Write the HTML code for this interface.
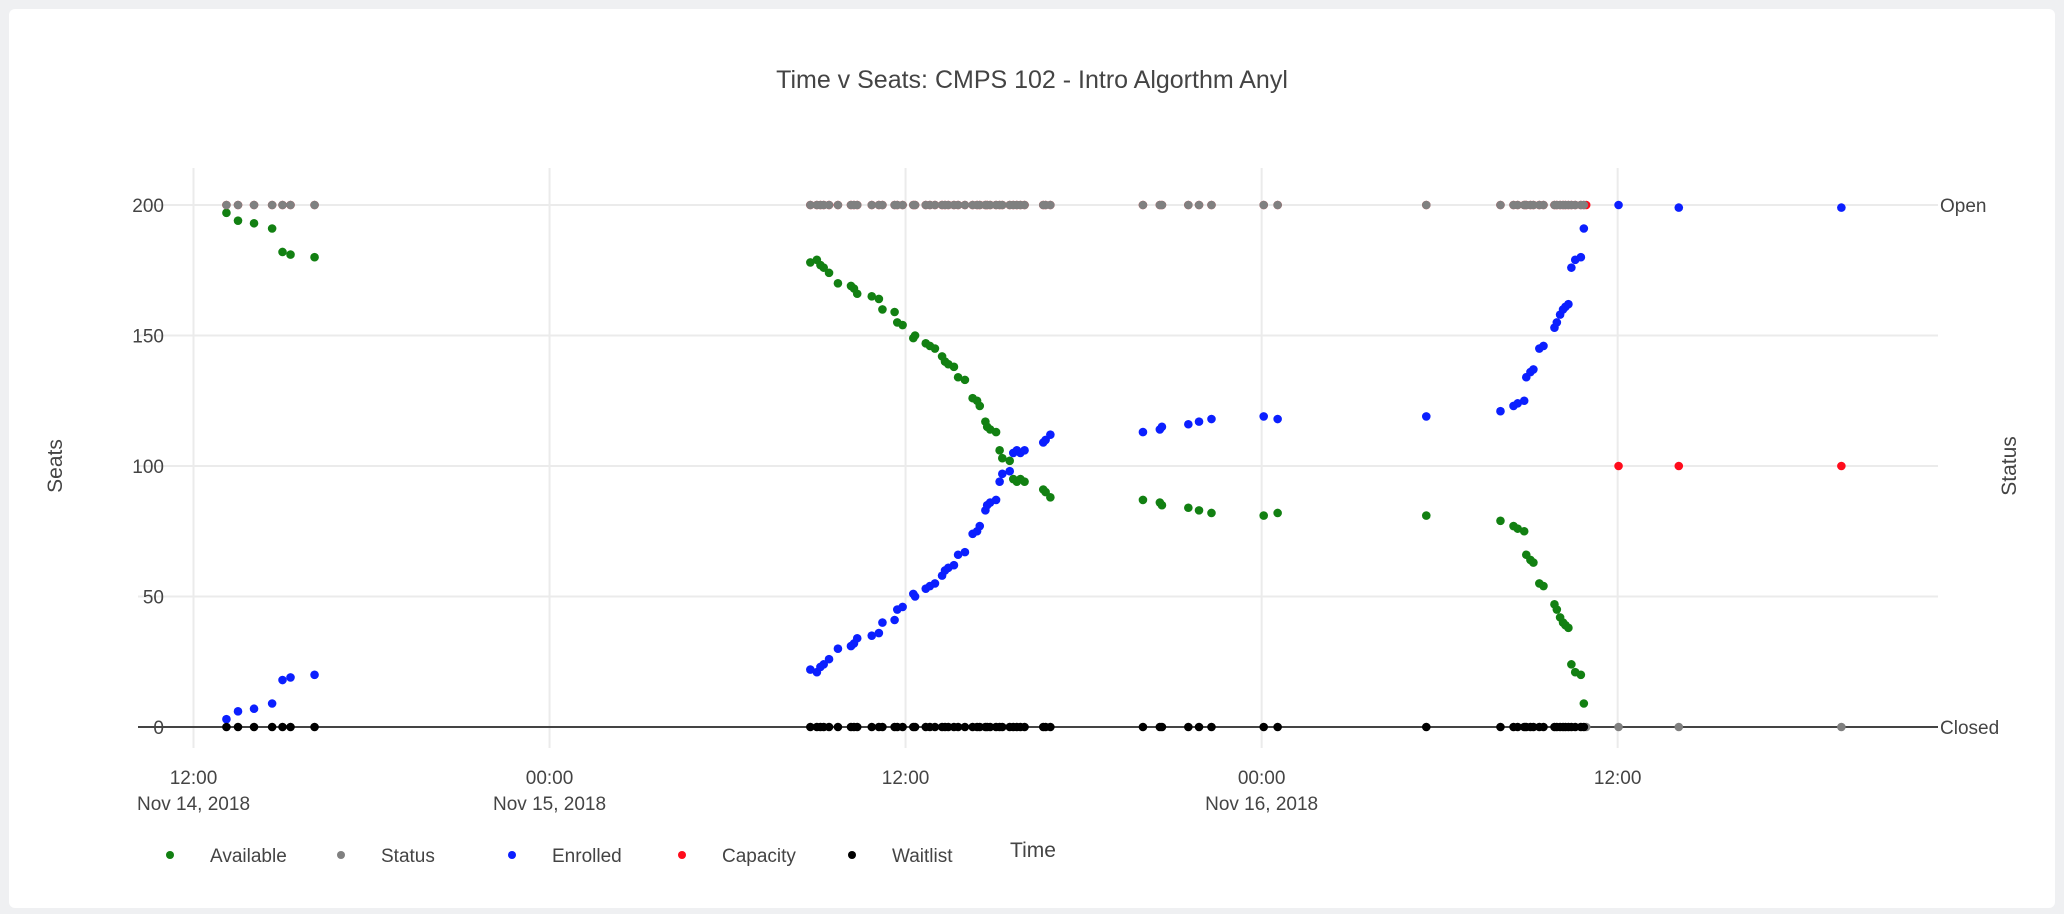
<!DOCTYPE html>
<html><head><meta charset="utf-8"><style>
html,body{margin:0;padding:0;background:#eff0f2;}
body{width:2064px;height:914px;overflow:hidden;position:relative;font-family:"Liberation Sans",sans-serif;}
#card{position:absolute;left:9px;top:9px;width:2046px;height:899px;background:#fff;border-radius:6px;}
svg{position:absolute;left:0;top:0;}
text{font-family:"Liberation Sans",sans-serif;fill:#444;}
</style></head><body>
<div id="card"></div>
<svg id="chart" width="2064" height="914"></svg>
<script>
// hours since Nov 14, 2018 12:00
const times = [1.11,1.5,2.04,2.65,3.0,3.27,4.08,
20.79,21.01,21.13,21.24,21.42,21.72,22.16,22.26,22.37,22.86,23.10,23.22,23.63,23.72,23.90,24.26,24.32,24.68,24.82,24.99,25.23,25.33,25.44,25.63,25.77,26.00,26.26,26.41,26.50,26.69,26.75,26.85,27.05,27.17,27.26,27.51,27.63,27.75,27.87,28.01,28.64,28.72,28.88,32.00,32.57,32.64,33.53,33.89,34.31,36.07,36.54,41.55,
44.05,44.49,44.63,44.85,44.92,45.06,45.16,45.36,45.50,45.87,45.95,46.06,46.16,46.24,46.34,46.44,46.57,46.76,46.86,
46.94,48.03,50.06,55.54];
const available = [197,194,193,191,182,181,180,
178,179,177,176,174,170,169,168,166,165,164,160,159,155,154,149,150,147,146,145,142,140,139,138,134,133,126,125,123,117,115,114,113,106,103,102,95,94,95,94,91,90,88,87,86,85,84,83,82,81,82,81,
79,77,76,75,66,64,63,55,54,47,45,42,40,39,38,24,21,20,9,
null,null,null,null];
const enrolled = [3,6,7,9,18,19,20,
22,21,23,24,26,30,31,32,34,35,36,40,41,45,46,51,50,53,54,55,58,60,61,62,66,67,74,75,77,83,85,86,87,94,97,98,105,106,105,106,109,110,112,113,114,115,116,117,118,119,118,119,
121,123,124,125,134,136,137,145,146,153,155,158,160,161,162,176,179,180,191,
null,200,199,199];
const capacity = [200,200,200,200,200,200,200,
200,200,200,200,200,200,200,200,200,200,200,200,200,200,200,200,200,200,200,200,200,200,200,200,200,200,200,200,200,200,200,200,200,200,200,200,200,200,200,200,200,200,200,200,200,200,200,200,200,200,200,200,
200,200,200,200,200,200,200,200,200,200,200,200,200,200,200,200,200,200,200,
200,100,100,100];
const statusOpen = [1,1,1,1,1,1,1,
1,1,1,1,1,1,1,1,1,1,1,1,1,1,1,1,1,1,1,1,1,1,1,1,1,1,1,1,1,1,1,1,1,1,1,1,1,1,1,1,1,1,1,1,1,1,1,1,1,1,1,1,
1,1,1,1,1,1,1,1,1,1,1,1,1,1,1,1,1,1,1,
0,0,0,0];
const waitlist = [0,0,0,0,0,0,0,
0,0,0,0,0,0,0,0,0,0,0,0,0,0,0,0,0,0,0,0,0,0,0,0,0,0,0,0,0,0,0,0,0,0,0,0,0,0,0,0,0,0,0,0,0,0,0,0,0,0,0,0,
0,0,0,0,0,0,0,0,0,0,0,0,0,0,0,0,0,0,0,
null,null,null,null];
const yTicks = [0,50,100,150,200];
const xTickHours = [0,12,24,36,48];
const xTickTime = ["12:00","00:00","12:00","00:00","12:00"];
const xTickDate = ["Nov 14, 2018","Nov 15, 2018","","Nov 16, 2018",""];

const NS="http://www.w3.org/2000/svg";
const svg=document.getElementById('chart');
const L=138,R=1938,T=168,B=748;
function xS(h){return 193.5+h*29.67;}
function yS(v){return 727-v*2.61;}
function mk(tag,attrs,parent){const e=document.createElementNS(NS,tag);for(const k in attrs)e.setAttribute(k,attrs[k]);(parent||svg).appendChild(e);return e;}

const title=mk('text',{x:1032,y:88,'text-anchor':'middle','font-size':25});
title.textContent='Time v Seats: CMPS 102 - Intro Algorthm Anyl';



const grid=mk('g',{});


xTickHours.forEach((h,i)=>{
  mk('line',{x1:xS(h),x2:xS(h),y1:T,y2:B,stroke:'#ebebeb','stroke-width':2},grid);
  const t1=mk('text',{x:xS(h),y:784,'text-anchor':'middle','font-size':19});
  t1.textContent=xTickTime[i];
  
  
  if(xTickDate[i]){const t2=mk('text',{x:xS(h),y:810,'text-anchor':'middle','font-size':19});
  t2.textContent=xTickDate[i];
  
  }
});
yTicks.forEach(v=>{
  if(v>0) mk('line',{x1:L,x2:R,y1:yS(v),y2:yS(v),stroke:'#ebebeb','stroke-width':2},grid);
  const t=mk('text',{x:164,y:yS(v)+7,'text-anchor':'end','font-size':19});
  t.textContent=v;
  
  
});
const zl=mk('line',{x1:L,x2:R,y1:yS(0),y2:yS(0),stroke:'#444','stroke-width':2});


[['Open',200],['Closed',0]].forEach(([s,v])=>{
  const t=mk('text',{x:1940,y:yS(v)+7,'font-size':19});
  t.textContent=s;
  
  
});
const yt=mk('text',{x:0,y:0,'text-anchor':'middle','font-size':21,transform:'translate(62,466) rotate(-90)'});
yt.textContent='Seats';


const yt2=mk('text',{x:0,y:0,'text-anchor':'middle','font-size':21,transform:'translate(2016,466) rotate(-90)'});
yt2.textContent='Status';


const xt=mk('text',{x:1033,y:857,'text-anchor':'middle','font-size':21});
xt.textContent='Time';



function series(name,vals,color){
  const g=mk('g',{});
  
  
  vals.forEach((v,i)=>{ if(v===null) return;
    const c=mk('circle',{cx:xS(times[i]),cy:yS(v),r:4.3,fill:color},g);
    
    
  });
}
series('available',available,'#128012');
series('capacity',capacity,'#ff0c1c');
series('status',statusOpen.map(s=>s*200),'#808080');
series('enrolled',enrolled,'#0b1fff');
series('waitlist',waitlist,'#000000');

const legendNames=['Available','Status','Enrolled','Capacity','Waitlist'];
const legendColors=['#128012','#808080','#0b1fff','#ff0c1c','#000000'];
const legendX=[170,341,512,682,852];
legendNames.forEach((n,i)=>{
  const g=mk('g',{});
  
  
  mk('circle',{cx:legendX[i],cy:855,r:4,fill:legendColors[i]},g);
  const t=mk('text',{x:legendX[i]+40,y:862,'font-size':19},g);
  t.textContent=n;
});
</script>
</body></html>
